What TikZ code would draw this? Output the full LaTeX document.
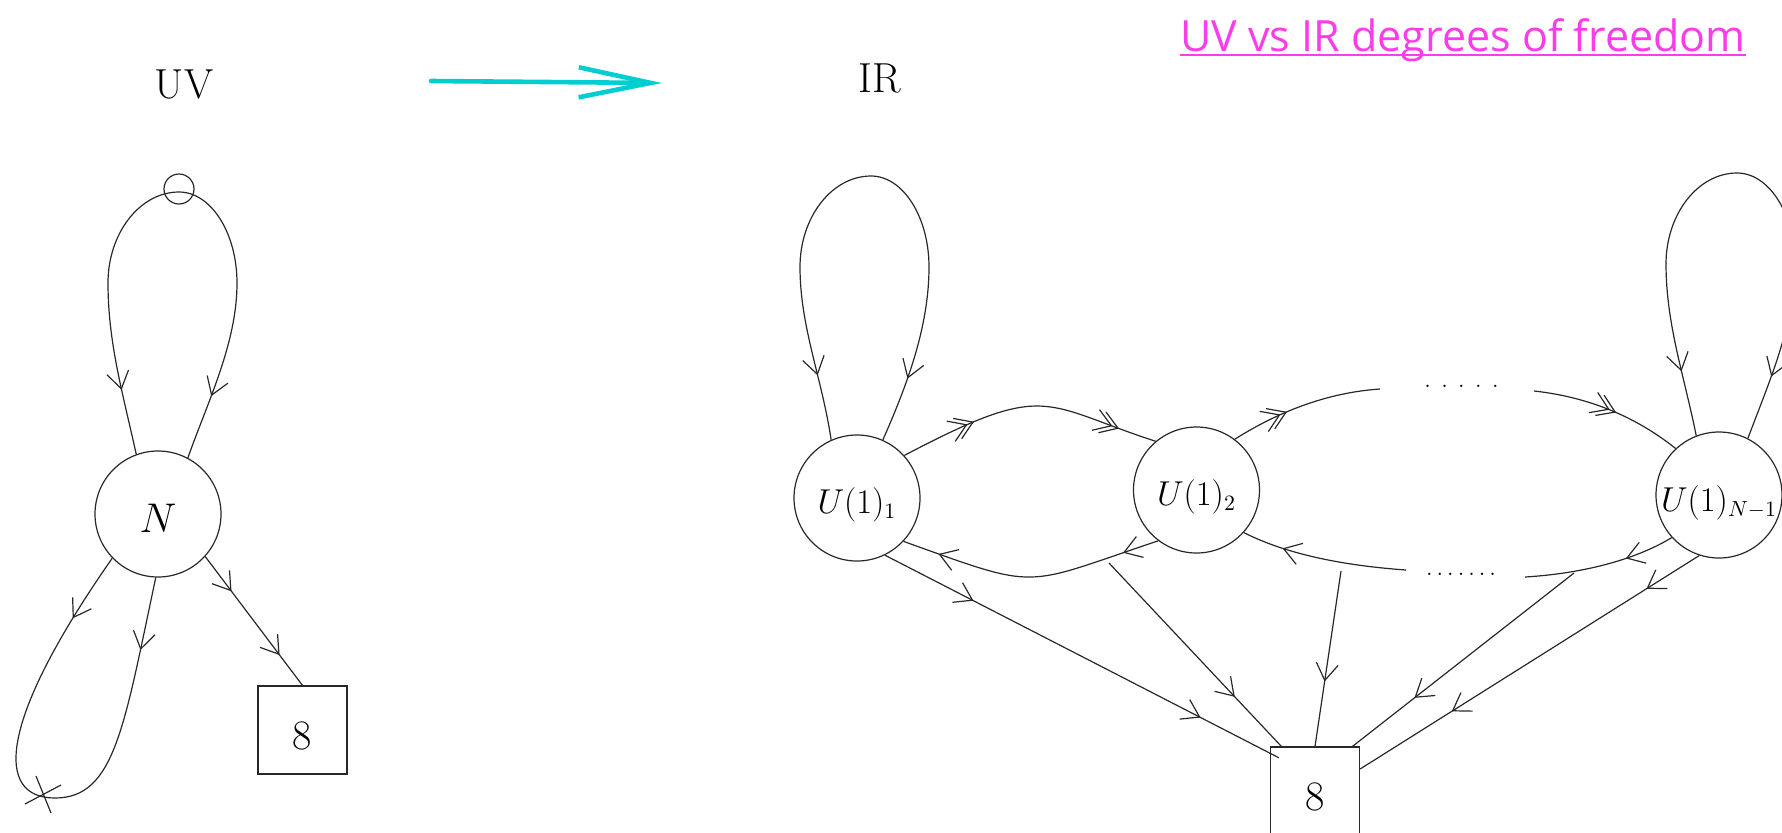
\documentclass[tikz,border=0pt]{standalone}
\usepackage{fontspec}
\newfontfamily\titlefont{Open Sans}
\usetikzlibrary{arrows.meta,decorations.markings,calc}
\definecolor{cyanarr}{RGB}{0,206,209}
\definecolor{titlemag}{RGB}{250,60,235}
\definecolor{ink}{RGB}{40,40,40}
\newcommand\lowr[2]{\raisebox{-#1}[\height][\depth]{#2}}
\tikzset{
  mybarb/.tip={Straight Barb[length=8.4pt,width=11pt]},
  wire/.style={draw=ink,line width=0.6pt},
  ar/.style={postaction={decorate,decoration={markings,mark=at position #1 with {\arrow{mybarb}}}}},
  rar/.style={postaction={decorate,decoration={markings,mark=at position #1 with {\arrowreversed{mybarb}}}}},
  dar/.style={postaction={decorate,decoration={markings,mark=at position #1 with {\arrow{mybarb}\arrow[xshift=-3.5pt]{mybarb}}}}},
  gnode/.style={circle,draw=ink,line width=0.6pt,inner sep=0pt,minimum size=63pt},
  fbox/.style={rectangle,draw=ink,line width=0.6pt,inner sep=0pt,minimum width=44.5pt,minimum height=44pt},
  lbl/.style={font=\fontsize{16pt}{19pt}\selectfont},
  dotsty/.style={font=\fontsize{12pt}{14pt}\selectfont,inner sep=0pt,anchor=base},
}
\newcommand\myloop[4]{%
  \draw[wire,rar=33pt,ar=-33pt] (#1.#2)
   .. controls ($(#1)+(-35,-120)$) and ($(#1)+(#4-71,-171)$) .. ($(#1)+(#4-71,-231)$)
   .. controls ($(#1)+(#4-71,-281)$) and ($(#1)+(#4-39,-322)$) .. ($(#1)+(#4,-322)$)
   .. controls ($(#1)+(#4+32,-322)$) and ($(#1)+(#4+58,-281)$) .. ($(#1)+(#4+58,-231)$)
   .. controls ($(#1)+(#4+58,-171)$) and ($(#1)+(50,-113)$) .. (#1.#3);}
\begin{document}
\begin{tikzpicture}[x=0.5pt,y=-0.5pt,font=\fontsize{21pt}{25pt}\selectfont]
\clip (0,0) rectangle (1782,832);
% title
\node[anchor=base west,inner sep=0pt,text=titlemag,font=\titlefont\fontsize{21.5pt}{26pt}\selectfont] (title) at (1180,51) {UV vs IR degrees of freedom};
\draw[titlemag,line width=1.2pt] ($(title.base west)+(0,4)$) -- ($(title.base east)+(0,4)$);
% headings
\node[anchor=base,inner sep=0pt] (uv) at (184,98) {UV};
\node[anchor=base,inner sep=0pt] (ir) at (880,92) {IR};
\coordinate (a0) at (431,81);
\coordinate (a1) at (662,83);
\draw[cyanarr,line width=2.3pt,line cap=round,-{Straight Barb[length=36pt,width=15pt]}] (a0) -- (a1);
% UV quiver
\node[gnode] (n) at (158,514) {\lowr{2pt}{$N$}};
\node[fbox] (b1) at (302.5,730) {\lowr{3pt}{8}};
\node[circle,draw=ink,line width=0.6pt,inner sep=0pt,minimum size=15pt] (oc) at (179,189) {};
\myloop{n}{110}{62}{21}
\draw[wire,ar=36pt,rar=-37pt] (n.224) .. controls (-3,723) and (-5,798) .. (55,798)
  .. controls (115,798) and (124,726) .. (n.268);
\coordinate (xm) at (43,795);
\draw[wire] ($(xm)+(-18,9)$) -- ($(xm)+(18,-10)$) ($(xm)+(-7,-19)$) -- ($(xm)+(8,18)$);
\draw[wire,ar=0.27,ar=0.765] (n.318) -- (b1.north);
% IR quiver
\node[gnode,lbl] (u1) at (857,498) {\lowr{3.5pt}{$U(1)_1$}};
\node[gnode,lbl] (u2) at (1196.5,490) {\lowr{3.5pt}{$U(1)_2$}};
\node[gnode,lbl] (un) at (1719,495) {\lowr{4pt}{$U(1)_{N-1}$}};
\node[fbox] (b2) at (1315,791) {\lowr{3pt}{8}};
\myloop{u1}{114}{66}{14}
\myloop{un}{111}{63}{18}
\draw[wire,dar=0.29,dar=0.855] (u1.42) .. controls (1048,380) and (1041,404) .. (u2.130);
\draw[wire,ar=0.14,ar=0.86] (u2.233) .. controls (1020,587) and (1042,591) .. (u1.317);
\coordinate (e1) at (1380,389);
\coordinate (e2) at (1534,391);
\coordinate (e3) at (1525,577);
\coordinate (e4) at (1406,570);
\draw[wire,dar=0.38] (u2.53) .. controls (1270,417) and (1320,393) .. (e1);
\draw[wire,dar=0.55] (e2) .. controls (1580,396) and (1630,412) .. (un.133);
\draw[wire,ar=0.33] (un.222) .. controls (1640,557) and (1590,573) .. (e3);
\draw[wire,ar=0.75] (e4) .. controls (1350,566) and (1290,556) .. (u2.318);
\node[dotsty] (dt) at (1461.5,387.5) {.\kern5.2pt.\kern5.2pt.\kern5.2pt.\kern5.2pt.};
\node[dotsty] (db) at (1461,575.5) {.\kern2pt.\kern2pt.\kern2pt.\kern2pt.\kern2pt.\kern2pt.};
\coordinate (s2) at (1109,563);
\coordinate (s3) at (1341,571);
\coordinate (s4) at (1574,573);
\draw[wire,ar=0.23,ar=0.82,shorten >=-5pt] (u1.296) -- (b2.140);
\draw[wire,ar=0.73] (s2) -- (b2.127);
\draw[wire,ar=0.63] (s3) -- (b2.north);
\draw[wire,ar=0.72] (s4) -- (b2.50);
\draw[wire,ar=0.156,ar=0.73] (un.252) -- (b2.26);
\end{tikzpicture}
\end{document}
